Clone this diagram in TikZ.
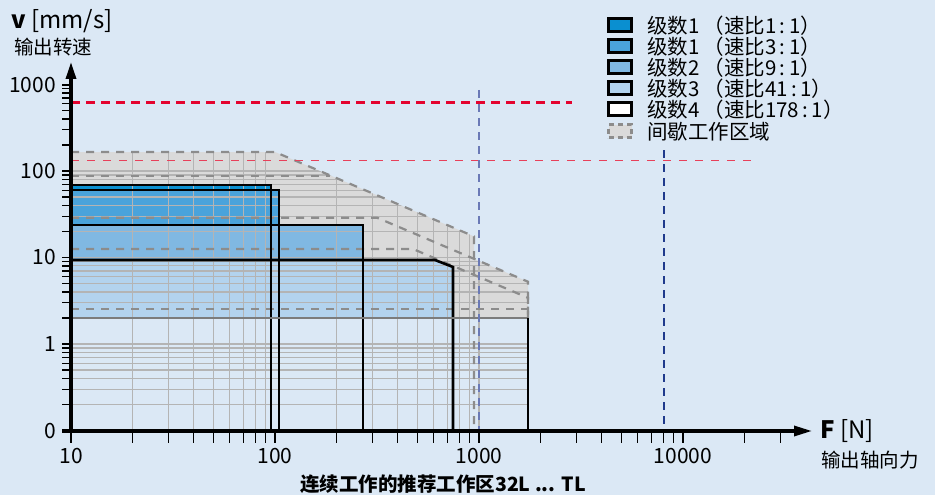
\documentclass[tikz,border=0pt]{standalone}
\usepackage{fontspec}
\setmainfont{Noto Sans CJK SC}
\usetikzlibrary{arrows.meta}
\definecolor{bg}{HTML}{DBE8F5}
\definecolor{gfill}{HTML}{DADADA}
\definecolor{sA}{HTML}{0A8FD0}
\definecolor{sB}{HTML}{4AA3DB}
\definecolor{sC}{HTML}{80B8E2}
\definecolor{sD}{HTML}{B3D3EE}
\definecolor{dgray}{HTML}{8C8C8C}
\definecolor{gridc}{HTML}{B4B4B4}
\definecolor{topgray}{HTML}{7C7C7C}
\definecolor{redA}{HTML}{E4032E}
\definecolor{redB}{HTML}{E8405A}
\definecolor{blueA}{HTML}{6A79B6}
\definecolor{blueB}{HTML}{1F3A8C}
\newcommand{\lp}{\hspace{0.2em}（}
\begin{document}
\begin{tikzpicture}[x=1pt,y=-1pt,
  num/.style={font=\fontsize{21}{24}\selectfont, inner sep=0pt},
  cjk/.style={font=\fontsize{19.5}{23}\selectfont, inner sep=0pt},
  axtitle/.style={font=\fontsize{24}{28}\selectfont, inner sep=0pt, anchor=west},
  legtxt/.style={font=\fontsize{20.5}{23}\selectfont, anchor=west, inner sep=0pt},
  legbox/.style={draw=black, line width=2.2pt, minimum width=23pt, minimum height=13pt, inner sep=0pt},
  gdash/.style={draw=dgray, line width=2.2pt, dash pattern=on 8pt off 7pt},
  blk/.style={draw=black, line width=2.6pt},
  gridline/.style={draw=gridc, line width=1.2pt},
  axisline/.style={draw=black, line width=3.2pt},
  tickline/.style={draw=black, line width=1.3pt}]
\fill[bg] (0,0) rectangle (935,495);
\useasboundingbox (0,0) rectangle (935,495);

% intermittent envelope (grey)
\fill[gfill] (71,152) -- (275,152) -- (474,236.4) -- (474,259) -- (528,281.7) -- (528,318) -- (71,318) -- cycle;

% continuous regions
\fill[sA] (71,185) rectangle (271,431);
\fill[sB] (71,190) rectangle (279,431);
\fill[sC] (71,225) rectangle (363,431);
\fill[sD] (71,260) -- (435,260) -- (453,267) -- (453,431) -- (71,431) -- cycle;
\fill[bg] (71,318) rectangle (528,431);

% grid
\begin{scope}
\clip (71,152) -- (275,152) -- (474,236.4) -- (474,259) -- (528,281.7) -- (528,431) -- (71,431) -- cycle;
\foreach \d/\m in {-1/2,-1/3,-1/4,-1/5,-1/6,-1/7,-1/8,-1/9,0/1,0/2,0/3,0/4,0/5,0/6,0/7,0/8,0/9,1/1,1/2,1/3,1/4,1/5,1/6,1/7,1/8,1/9,2/1,2/2} {
  \pgfmathsetmacro\yy{344-86.5*(\d+ln(\m)/ln(10))}
  \draw[gridline] (71,\yy) -- (528,\yy);
}
\foreach \d/\m in {0/2,0/3,0/4,0/5,0/6,0/7,0/8,0/9,1/2,1/3,1/4,1/5,1/6,1/7,1/8,1/9,2/1} {
  \pgfmathsetmacro\xx{71+204*(\d+ln(\m)/ln(10))}
  \draw[gridline] (\xx,150) -- (\xx,431);
}
\end{scope}

% intermittent boundaries (dashed)
\draw[gdash] (71,152) -- (275,152) -- (474,236.4) -- (474,431);
\draw[gdash] (71,175.7) -- (330,175.7);
\draw[gdash] (71,217.7) -- (377,217.7) -- (528,281.7) -- (528,318);
\draw[gdash] (71,249) -- (413,249) -- (528,297.8) -- (528,318);
\draw[gdash] (71,309) -- (528,309) -- (528,318);

% continuous boundaries
\draw[blk] (71,185) -- (271,185) -- (271,431);
\draw[blk] (71,190) -- (279,190) -- (279,431);
\draw[blk] (71,225) -- (363,225) -- (363,431);
\draw[blk] (71,260) -- (435,260) -- (453,267) -- (453,431);
\draw[draw=topgray, line width=2.2pt] (71,318) -- (528,318);
\draw[blk] (528,318) -- (528,431);

% limit lines
\coordinate (rA1) at (71,103); \coordinate (rA2) at (572,103);
\coordinate (rB1) at (71,160.5); \coordinate (rB2) at (753,160.5);
\coordinate (bA1) at (479,90); \coordinate (bA2) at (479,431);
\coordinate (bB1) at (664,150); \coordinate (bB2) at (664,431);
\draw[redA, line width=3pt, dash pattern=on 9pt off 6pt] (rA1) -- (rA2);
\draw[redB, line width=1.7pt, dash pattern=on 8pt off 8pt] (rB1) -- (rB2);
\draw[blueA, line width=1.7pt, dash pattern=on 8pt off 6pt] (bA1) -- (bA2);
\draw[blueB, line width=2.8pt, dash pattern=on 8pt off 6pt] (bB1) -- (bB2);

% ticks
\foreach \d in {-1,0,1,2} {
  \foreach \m in {1,2,3,4,5,6,7,8,9} {
    \pgfmathsetmacro\yy{344-86.5*(\d+ln(\m)/ln(10))}
    \draw[tickline] (62,\yy) -- (71,\yy);
  }
}
\draw[tickline] (62,85) -- (71,85);
\foreach \d in {0,1,2} {
  \foreach \m in {1,2,3,4,5,6,7,8,9} {
    \pgfmathsetmacro\xx{71+204*(\d+ln(\m)/ln(10))}
    \draw[tickline] (\xx,431) -- (\xx,443);
  }
}
\foreach \m in {1,2,3} {
  \pgfmathsetmacro\xx{71+204*(3+ln(\m)/ln(10))}
  \draw[tickline] (\xx,431) -- (\xx,443);
}

% axes
\coordinate (xs) at (62,431); \coordinate (xe) at (812,431);
\coordinate (ys) at (71,431); \coordinate (ye) at (71,62);
\draw[axisline, -{Triangle[length=18pt,width=10pt]}] (xs) -- (xe);
\draw[axisline, -{Triangle[length=17pt,width=10pt]}] (ys) -- (ye);

% axis labels
\node[num, anchor=east] (y1000) at (56,85) {1000};
\node[num, anchor=east] (y100) at (56,171.5) {100};
\node[num, anchor=east] (y10) at (56,257.5) {10};
\node[num, anchor=east] (y1) at (56,344) {1};
\node[num, anchor=east] (y0) at (56,431) {0};
\node[num] (x10) at (71,456) {10};
\node[num] (x100) at (275,456) {100};
\node[num] (x1000) at (479,456) {1000};
\node[num] (x10000) at (683,456) {10000};

\node[axtitle] (vt) at (11,21) {\textbf{v} [mm/s]};
\node[cjk, anchor=west] (vs) at (14,47) {输出转速};
\node[axtitle] (ft) at (820,431) {\textbf{F} [N]};
\node[cjk, anchor=west] (fs) at (821,460) {输出轴向力};
\node[cjk, font=\fontsize{19.5}{23}\selectfont\bfseries] (ttl) at (443,484) {连续工作的推荐工作区32L ... TL};

% legend
\node[legbox, fill=sA] (k1) at (620,25) {};
\node[legbox, fill=sB] (k2) at (620,46) {};
\node[legbox, fill=sC] (k3) at (620,67) {};
\node[legbox, fill=sD] (k4) at (620,88) {};
\node[legbox, fill=white] (k5) at (620,109) {};
\node[legbox, draw=dgray, fill=gfill, dash pattern=on 5pt off 4pt] (k6) at (620,131) {};
\node[legtxt] (t1) at (647,26) {级数1\lp 速比1\,:\,1）};
\node[legtxt] (t2) at (647,47) {级数1\lp 速比3\,:\,1）};
\node[legtxt] (t3) at (647,68) {级数2\lp 速比9\,:\,1）};
\node[legtxt] (t4) at (647,89) {级数3\lp 速比41\,:\,1）};
\node[legtxt] (t5) at (647,110) {级数4\lp 速比178\,:\,1）};
\node[legtxt] (t6) at (647,132) {间歇工作区域};
\end{tikzpicture}
\end{document}
